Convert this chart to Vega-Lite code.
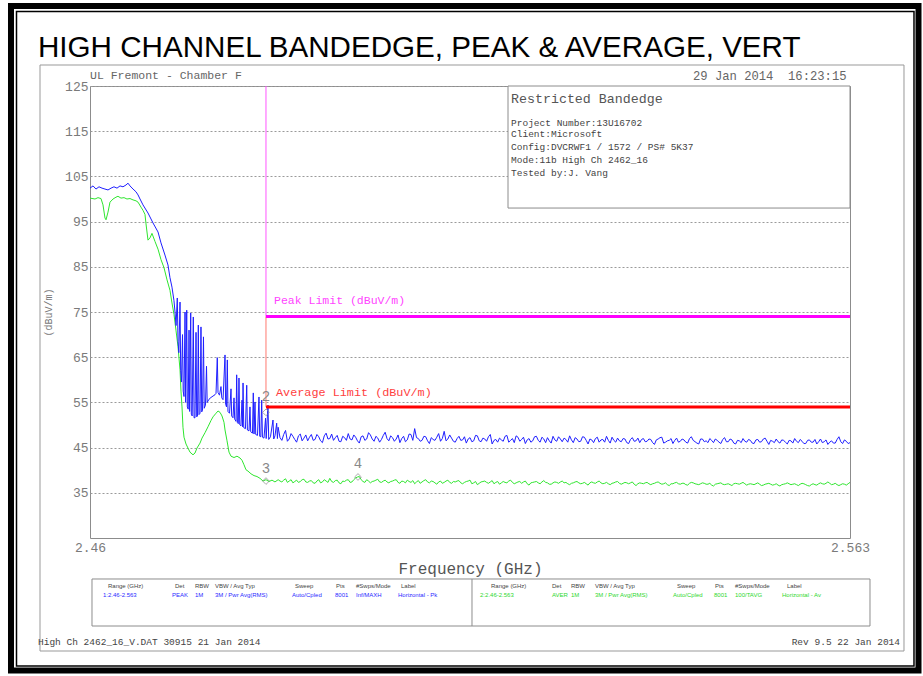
{
"$schema": "https://vega.github.io/schema/vega-lite/v6.json",
"width": 760, "height": 452,
"autosize": "none",
"padding": {"left": 90, "top": 86, "right": 73, "bottom": 138},
"background": "white",
"config": {"view": {"stroke": "#8c8c8c", "strokeWidth": 1}},
"datasets": {
"peak": [
{"f":2.46,"v":102.4},{"f":2.46041,"v":102.9},{"f":2.46081,"v":102.2},{"f":2.46122,"v":102.7},{"f":2.46163,"v":102.4},{"f":2.46203,"v":102.2},{"f":2.46244,"v":102.0},{"f":2.46285,"v":102.4},{"f":2.46325,"v":102.7},{"f":2.46366,"v":102.4},{"f":2.46407,"v":102.9},{"f":2.46447,"v":102.7},{"f":2.46488,"v":103.1},{"f":2.46515,"v":103.5},{"f":2.46542,"v":102.9},{"f":2.46583,"v":102.2},{"f":2.46623,"v":101.6},{"f":2.46651,"v":100.9},{"f":2.46678,"v":100.0},{"f":2.46718,"v":98.7},{"f":2.46786,"v":96.9},{"f":2.46854,"v":94.7},{"f":2.46922,"v":92.7},{"f":2.46962,"v":90.3},{"f":2.47016,"v":87.6},{"f":2.47057,"v":85.4},{"f":2.47084,"v":82.6},{"f":2.47111,"v":80.5},
{"f":2.47138,"v":77.5},{"f":2.47152,"v":75.0},{"f":2.47166,"v":72.0},{"f":2.47183,"v":78.1},{"f":2.47193,"v":68.5},{"f":2.47204,"v":66.0},{"f":2.4722,"v":77.2},{"f":2.47229,"v":62.0},{"f":2.4724,"v":59.5},{"f":2.47254,"v":70.0},{"f":2.47263,"v":57.5},{"f":2.47274,"v":56.3},{"f":2.47288,"v":75.0},{"f":2.47296,"v":55.0},{"f":2.47311,"v":75.4},{"f":2.47319,"v":54.0},{"f":2.47331,"v":53.5},{"f":2.47342,"v":71.0},{"f":2.4735,"v":53.0},{"f":2.47365,"v":74.8},{"f":2.47373,"v":52.4},{"f":2.47385,"v":52.0},{"f":2.474,"v":73.9},{"f":2.4741,"v":51.6},{"f":2.47423,"v":51.6},{"f":2.47437,"v":70.5},{"f":2.47446,"v":51.8},{"f":2.47457,"v":52.0},{"f":2.47468,"v":72.1},{"f":2.47477,"v":52.3},{"f":2.47491,"v":52.6},{"f":2.47504,"v":71.7},{"f":2.47514,"v":52.9},{"f":2.47525,"v":53.3},{"f":2.47538,"v":69.5},{"f":2.47548,"v":53.7},{"f":2.47565,"v":54.4},{"f":2.47579,"v":63.0},{"f":2.47588,"v":55.0},{"f":2.47613,"v":55.7},{"f":2.4764,"v":56.1},{"f":2.47667,"v":56.4},{"f":2.47694,"v":56.7},{"f":2.47708,"v":57.0},{"f":2.47725,"v":64.9},{"f":2.47735,"v":57.2},{"f":2.47755,"v":56.6},{"f":2.47775,"v":58.5},{"f":2.47786,"v":56.0},{"f":2.47803,"v":55.6},{"f":2.4783,"v":65.5},{"f":2.47838,"v":54.6},{"f":2.4785,"v":54.0},{"f":2.47861,"v":64.4},{"f":2.4787,"v":53.0},{"f":2.47891,"v":52.6},{"f":2.47911,"v":58.0},{"f":2.4792,"v":52.0},{"f":2.47938,"v":51.6},{"f":2.47952,"v":56.0},{"f":2.47961,"v":51.3},{"f":2.47979,"v":50.8},{"f":2.47988,"v":61.1},{"f":2.47998,"v":50.5},{"f":2.4801,"v":50.3},{"f":2.48019,"v":60.4},{"f":2.48029,"v":50.1},{"f":2.48046,"v":49.8},{"f":2.4806,"v":55.5},{"f":2.48068,"v":49.6},{"f":2.48074,"v":59.3},{"f":2.48084,"v":49.4},{"f":2.48107,"v":49.2},{"f":2.48124,"v":58.8},{"f":2.48133,"v":48.9},{"f":2.48155,"v":48.7},{"f":2.48168,"v":54.0},{"f":2.48178,"v":48.5},{"f":2.48202,"v":48.2},{"f":2.48213,"v":57.1},{"f":2.48223,"v":48.0},{"f":2.48236,"v":55.1},{"f":2.48246,"v":47.9},{"f":2.4827,"v":47.7},{"f":2.4829,"v":56.2},{"f":2.483,"v":47.5},{"f":2.48315,"v":47.4},{"f":2.48327,"v":55.5},{"f":2.48337,"v":47.3},{"f":2.48358,"v":47.1},{"f":2.48379,"v":51.5},{"f":2.48388,"v":47.0},{"f":2.48412,"v":54.4},{"f":2.48422,"v":46.8},{"f":2.48446,"v":47.4},{"f":2.4848,"v":51.1},{"f":2.4849,"v":46.9},{"f":2.48507,"v":47.6},{"f":2.4853,"v":50.4},{"f":2.4854,"v":47.0},
{"f":2.4855,"v":49.5},{"f":2.486,"v":46.6},{"f":2.4865,"v":48.8},{"f":2.487,"v":46.9},{"f":2.4875,"v":47.5},{"f":2.488,"v":46.2},{"f":2.4885,"v":48.0},{"f":2.489,"v":47.1},{"f":2.4895,"v":46.5},{"f":2.49,"v":47.9},
{"f":2.4905,"v":46.8},{"f":2.491,"v":47.4},{"f":2.4915,"v":46.1},{"f":2.492,"v":48.2},{"f":2.4925,"v":47.0},{"f":2.493,"v":46.6},{"f":2.4935,"v":47.7},{"f":2.494,"v":46.3},{"f":2.4945,"v":47.2},{"f":2.495,"v":48.1},
{"f":2.4955,"v":46.7},{"f":2.496,"v":47.3},{"f":2.4965,"v":46.0},{"f":2.497,"v":47.6},{"f":2.4975,"v":46.9},{"f":2.498,"v":47.8},{"f":2.4985,"v":46.4},{"f":2.499,"v":47.1},{"f":2.4995,"v":46.8},{"f":2.5,"v":48.4},
{"f":2.5005,"v":46.5},{"f":2.501,"v":47.2},{"f":2.5015,"v":46.9},{"f":2.502,"v":46.1},{"f":2.5025,"v":47.5},{"f":2.503,"v":46.7},{"f":2.5035,"v":47.9},{"f":2.504,"v":49.2},{"f":2.5045,"v":47.0},{"f":2.505,"v":46.6},
{"f":2.5055,"v":47.4},{"f":2.506,"v":45.9},{"f":2.5065,"v":46.8},{"f":2.507,"v":47.3},{"f":2.5075,"v":46.4},{"f":2.508,"v":48.6},{"f":2.5085,"v":46.9},{"f":2.509,"v":47.1},{"f":2.5095,"v":46.2},{"f":2.51,"v":47.5},
{"f":2.5105,"v":46.7},{"f":2.511,"v":46.0},{"f":2.5115,"v":47.2},{"f":2.512,"v":46.5},{"f":2.5125,"v":47.6},{"f":2.513,"v":46.3},{"f":2.5135,"v":46.9},{"f":2.514,"v":47.4},{"f":2.5145,"v":45.8},{"f":2.515,"v":46.8},
{"f":2.5155,"v":47.1},{"f":2.516,"v":46.4},{"f":2.5165,"v":47.7},{"f":2.517,"v":46.6},{"f":2.5175,"v":46.1},{"f":2.518,"v":47.3},{"f":2.5185,"v":46.8},{"f":2.519,"v":45.9},{"f":2.5195,"v":47.0},{"f":2.52,"v":46.5},
{"f":2.5205,"v":47.5},{"f":2.521,"v":46.2},{"f":2.5215,"v":46.9},{"f":2.522,"v":47.2},{"f":2.5225,"v":46.0},{"f":2.523,"v":46.7},{"f":2.5235,"v":47.4},{"f":2.524,"v":46.3},{"f":2.5245,"v":46.8},{"f":2.525,"v":47.6},
{"f":2.5255,"v":46.1},{"f":2.526,"v":46.9},{"f":2.5265,"v":46.4},{"f":2.527,"v":47.3},{"f":2.5275,"v":45.8},{"f":2.528,"v":46.7},{"f":2.5285,"v":47.0},{"f":2.529,"v":46.2},{"f":2.5295,"v":46.8},{"f":2.53,"v":47.5},
{"f":2.5305,"v":46.0},{"f":2.531,"v":46.6},{"f":2.5315,"v":47.1},{"f":2.532,"v":46.3},{"f":2.5325,"v":46.9},{"f":2.533,"v":45.9},{"f":2.5335,"v":47.2},{"f":2.534,"v":46.5},{"f":2.5345,"v":46.1},{"f":2.535,"v":47.0},
{"f":2.5355,"v":46.4},{"f":2.536,"v":46.8},{"f":2.5365,"v":45.7},{"f":2.537,"v":46.9},{"f":2.5375,"v":47.3},{"f":2.538,"v":46.2},{"f":2.5385,"v":46.6},{"f":2.539,"v":45.9},{"f":2.5395,"v":47.1},{"f":2.54,"v":46.4},
{"f":2.5405,"v":46.7},{"f":2.541,"v":46.0},{"f":2.5415,"v":47.4},{"f":2.542,"v":46.3},{"f":2.5425,"v":45.8},{"f":2.543,"v":46.9},{"f":2.5435,"v":46.5},{"f":2.544,"v":47.0},{"f":2.5445,"v":46.1},{"f":2.545,"v":46.6},
{"f":2.5455,"v":45.9},{"f":2.546,"v":47.2},{"f":2.5465,"v":46.3},{"f":2.547,"v":46.7},{"f":2.5475,"v":45.8},{"f":2.548,"v":46.5},{"f":2.5485,"v":47.0},{"f":2.549,"v":46.2},{"f":2.5495,"v":46.6},{"f":2.55,"v":45.9},
{"f":2.5505,"v":46.8},{"f":2.551,"v":46.3},{"f":2.5515,"v":47.1},{"f":2.552,"v":45.7},{"f":2.5525,"v":46.4},{"f":2.553,"v":46.9},{"f":2.5535,"v":46.0},{"f":2.554,"v":46.6},{"f":2.5545,"v":45.8},{"f":2.555,"v":46.5},
{"f":2.5555,"v":47.0},{"f":2.556,"v":46.1},{"f":2.5565,"v":46.4},{"f":2.557,"v":45.9},{"f":2.5575,"v":46.7},{"f":2.558,"v":46.2},{"f":2.5585,"v":45.8},{"f":2.559,"v":46.9},{"f":2.5595,"v":46.3},{"f":2.56,"v":45.7},
{"f":2.5605,"v":46.5},{"f":2.561,"v":46.0},{"f":2.5615,"v":47.4},{"f":2.562,"v":45.9},{"f":2.5625,"v":46.4},{"f":2.563,"v":46.1},
{"f":2.48575,"v":47.2},{"f":2.48625,"v":47.9},{"f":2.48675,"v":46.4},{"f":2.48725,"v":48.1},{"f":2.48775,"v":46.8},{"f":2.48825,"v":47.6},{"f":2.48875,"v":46.5},{"f":2.48925,"v":47.8},{"f":2.48975,"v":47.3},{"f":2.49025,"v":46.6},
{"f":2.49075,"v":47.9},{"f":2.49125,"v":46.5},{"f":2.49175,"v":47.6},{"f":2.49225,"v":46.9},{"f":2.49275,"v":48.0},{"f":2.49325,"v":47.2},{"f":2.49375,"v":46.4},{"f":2.49425,"v":47.5},{"f":2.49475,"v":46.6},{"f":2.49525,"v":46.9},
{"f":2.49575,"v":47.8},{"f":2.49625,"v":46.5},{"f":2.49675,"v":47.4},{"f":2.49725,"v":46.6},{"f":2.49775,"v":48.3},{"f":2.49825,"v":46.9},{"f":2.49875,"v":47.5},{"f":2.49925,"v":46.2},{"f":2.49975,"v":47.7},{"f":2.50025,"v":47.0},
{"f":2.50075,"v":47.6},{"f":2.50125,"v":46.4},{"f":2.50175,"v":47.8},{"f":2.50225,"v":47.0},{"f":2.50275,"v":46.3},{"f":2.50325,"v":48.0},{"f":2.50375,"v":46.6},{"f":2.50425,"v":47.2},{"f":2.50475,"v":46.4},{"f":2.50525,"v":47.5},
{"f":2.50575,"v":46.5},{"f":2.50625,"v":47.2},{"f":2.50675,"v":46.6},{"f":2.50725,"v":48.1},{"f":2.50775,"v":47.0},{"f":2.50825,"v":46.5},{"f":2.50875,"v":47.8},{"f":2.50925,"v":46.4},{"f":2.50975,"v":47.0},{"f":2.51025,"v":46.6},
{"f":2.51075,"v":47.4},{"f":2.51125,"v":46.9},{"f":2.51175,"v":46.3},{"f":2.51225,"v":47.7},{"f":2.51275,"v":46.5},{"f":2.51325,"v":47.1},{"f":2.51375,"v":46.4},{"f":2.51425,"v":47.9},{"f":2.51475,"v":46.6},{"f":2.51525,"v":46.2},
{"f":2.51575,"v":46.7},{"f":2.51625,"v":47.5},{"f":2.51675,"v":46.2},{"f":2.51725,"v":47.0},{"f":2.51775,"v":47.6},{"f":2.51825,"v":46.4},{"f":2.51875,"v":47.3},{"f":2.51925,"v":46.7},{"f":2.51975,"v":46.2},{"f":2.52025,"v":47.4},
{"f":2.52075,"v":46.6},{"f":2.52125,"v":47.3},{"f":2.52175,"v":46.1},{"f":2.52225,"v":46.5},{"f":2.52275,"v":47.5},{"f":2.52325,"v":46.4},{"f":2.52375,"v":46.9},{"f":2.52425,"v":47.1},{"f":2.52475,"v":46.2},{"f":2.52525,"v":46.7},
{"f":2.52575,"v":47.2},{"f":2.52625,"v":46.3},{"f":2.52675,"v":47.4},{"f":2.52725,"v":46.6},{"f":2.52775,"v":46.9},{"f":2.52825,"v":46.1},{"f":2.52875,"v":47.3},{"f":2.52925,"v":46.7},{"f":2.52975,"v":46.2},{"f":2.53025,"v":46.6},
{"f":2.53075,"v":47.3},{"f":2.53125,"v":46.2},{"f":2.53175,"v":46.5},{"f":2.53225,"v":47.0},{"f":2.53275,"v":46.1},{"f":2.53325,"v":46.8},{"f":2.53375,"v":46.4},{"f":2.53425,"v":47.1},{"f":2.53475,"v":46.8},{"f":2.53525,"v":46.3},
{"f":2.53575,"v":46.9},{"f":2.53625,"v":46.1},{"f":2.53675,"v":46.7},{"f":2.53725,"v":47.2},{"f":2.53775,"v":46.0},{"f":2.53825,"v":46.5},{"f":2.53875,"v":47.0},{"f":2.53925,"v":46.6},{"f":2.53975,"v":46.2},{"f":2.54025,"v":46.9},
{"f":2.54075,"v":46.2},{"f":2.54125,"v":47.0},{"f":2.54175,"v":46.6},{"f":2.54225,"v":46.0},{"f":2.54275,"v":46.9},{"f":2.54325,"v":46.3},{"f":2.54375,"v":46.1},{"f":2.54425,"v":46.6},{"f":2.54475,"v":46.9},{"f":2.54525,"v":46.2},
{"f":2.54575,"v":46.8},{"f":2.54625,"v":46.3},{"f":2.54675,"v":46.9},{"f":2.54725,"v":46.0},{"f":2.54775,"v":46.6},{"f":2.54825,"v":46.1},{"f":2.54875,"v":46.4},{"f":2.54925,"v":46.8},{"f":2.54975,"v":46.0},{"f":2.55025,"v":46.7},
{"f":2.55075,"v":46.2},{"f":2.55125,"v":46.9},{"f":2.55175,"v":46.4},{"f":2.55225,"v":46.6},{"f":2.55275,"v":46.1},{"f":2.55325,"v":46.3},{"f":2.55375,"v":46.7},{"f":2.55425,"v":46.2},{"f":2.55475,"v":46.6},{"f":2.55525,"v":46.0},
{"f":2.55575,"v":46.4},{"f":2.55625,"v":46.8},{"f":2.55675,"v":45.9},{"f":2.55725,"v":46.6},{"f":2.55775,"v":46.2},{"f":2.55825,"v":46.8},{"f":2.55875,"v":46.3},{"f":2.55925,"v":46.1},{"f":2.55975,"v":46.7},{"f":2.56025,"v":46.2},
{"f":2.56075,"v":46.0},{"f":2.56125,"v":46.8},{"f":2.56175,"v":46.3},{"f":2.56225,"v":46.7},{"f":2.56275,"v":45.9}
],
"avg": [
{"f":2.46,"v":100.2},{"f":2.46068,"v":100.0},{"f":2.46108,"v":100.3},{"f":2.46149,"v":100.1},{"f":2.46176,"v":98.7},{"f":2.46203,"v":95.8},{"f":2.46217,"v":95.4},{"f":2.46244,"v":97.1},{"f":2.46271,"v":99.3},{"f":2.46312,"v":100.0},{"f":2.46352,"v":100.4},{"f":2.46379,"v":100.6},{"f":2.4642,"v":100.2},{"f":2.46461,"v":100.3},{"f":2.46501,"v":100.0},{"f":2.46542,"v":100.1},{"f":2.46583,"v":99.8},{"f":2.46623,"v":99.6},{"f":2.46651,"v":99.3},{"f":2.46691,"v":98.2},{"f":2.46718,"v":97.5},{"f":2.46745,"v":96.6},{"f":2.46759,"v":94.5},{"f":2.46786,"v":90.9},{"f":2.46813,"v":91.4},{"f":2.4684,"v":92.4},{"f":2.46881,"v":90.6},{"f":2.46922,"v":88.9},{"f":2.46962,"v":86.6},{"f":2.47003,"v":84.8},{"f":2.47044,"v":82.1},{"f":2.47084,"v":79.8},{"f":2.47111,"v":77.0},{"f":2.47138,"v":74.5},{"f":2.47165,"v":71.0},{"f":2.47193,"v":67.3},{"f":2.4722,"v":62.2},{"f":2.47233,"v":57.5},{"f":2.47247,"v":54.0},{"f":2.4726,"v":49.5},{"f":2.47274,"v":47.3},{"f":2.47301,"v":45.8},{"f":2.47328,"v":44.9},{"f":2.47355,"v":44.0},{"f":2.47396,"v":43.4},{"f":2.47423,"v":43.8},{"f":2.4745,"v":44.9},{"f":2.47491,"v":46.0},{"f":2.47518,"v":47.1},{"f":2.47559,"v":48.3},{"f":2.47599,"v":49.6},{"f":2.4764,"v":51.0},{"f":2.47667,"v":51.8},{"f":2.47708,"v":52.6},{"f":2.47735,"v":53.1},{"f":2.47762,"v":52.8},{"f":2.47789,"v":52.0},{"f":2.47816,"v":50.6},{"f":2.4783,"v":48.9},{"f":2.47857,"v":46.5},{"f":2.47884,"v":44.0},{"f":2.47911,"v":43.1},{"f":2.47952,"v":42.8},{"f":2.47992,"v":43.1},{"f":2.48033,"v":42.7},{"f":2.4806,"v":42.2},{"f":2.48087,"v":41.2},{"f":2.48114,"v":40.1},{"f":2.48141,"v":39.8},{"f":2.48182,"v":39.2},{"f":2.48223,"v":38.8},{"f":2.48263,"v":38.6},{"f":2.48304,"v":38.2},{"f":2.48345,"v":37.6},{"f":2.48385,"v":37.9},{"f":2.48426,"v":37.5},{"f":2.48467,"v":37.8},{"f":2.48507,"v":37.4},
{"f":2.4855,"v":37.9},{"f":2.486,"v":37.4},{"f":2.4865,"v":38.1},{"f":2.487,"v":37.6},{"f":2.4875,"v":37.2},{"f":2.488,"v":37.8},{"f":2.4885,"v":37.5},{"f":2.489,"v":38.0},{"f":2.4895,"v":37.3},{"f":2.49,"v":37.7},
{"f":2.4905,"v":37.1},{"f":2.491,"v":37.9},{"f":2.4915,"v":37.4},{"f":2.492,"v":37.6},{"f":2.4925,"v":38.2},{"f":2.493,"v":37.3},{"f":2.4935,"v":37.8},{"f":2.494,"v":37.0},{"f":2.4945,"v":37.5},{"f":2.495,"v":37.9},
{"f":2.4955,"v":37.4},{"f":2.496,"v":38.3},{"f":2.4965,"v":38.6},{"f":2.497,"v":37.5},{"f":2.4975,"v":37.9},{"f":2.498,"v":37.2},{"f":2.4985,"v":37.6},{"f":2.499,"v":38.0},{"f":2.4995,"v":37.3},{"f":2.5,"v":37.8},
{"f":2.5005,"v":37.2},{"f":2.501,"v":37.6},{"f":2.5015,"v":37.9},{"f":2.502,"v":37.1},{"f":2.5025,"v":37.5},{"f":2.503,"v":37.8},{"f":2.5035,"v":37.3},{"f":2.504,"v":37.0},{"f":2.5045,"v":37.7},{"f":2.505,"v":37.4},
{"f":2.5055,"v":37.9},{"f":2.506,"v":37.2},{"f":2.5065,"v":37.5},{"f":2.507,"v":36.9},{"f":2.5075,"v":37.6},{"f":2.508,"v":37.3},{"f":2.5085,"v":37.8},{"f":2.509,"v":37.1},{"f":2.5095,"v":37.4},{"f":2.51,"v":37.7},
{"f":2.5105,"v":37.0},{"f":2.511,"v":37.5},{"f":2.5115,"v":37.8},{"f":2.512,"v":37.2},{"f":2.5125,"v":36.8},{"f":2.513,"v":37.4},{"f":2.5135,"v":37.6},{"f":2.514,"v":37.1},{"f":2.5145,"v":37.7},{"f":2.515,"v":37.3},
{"f":2.5155,"v":36.9},{"f":2.516,"v":37.5},{"f":2.5165,"v":37.2},{"f":2.517,"v":37.8},{"f":2.5175,"v":37.0},{"f":2.518,"v":37.4},{"f":2.5185,"v":37.1},{"f":2.519,"v":37.6},{"f":2.5195,"v":36.7},{"f":2.52,"v":37.3},
{"f":2.5205,"v":37.5},{"f":2.521,"v":37.0},{"f":2.5215,"v":37.7},{"f":2.522,"v":37.2},{"f":2.5225,"v":36.9},{"f":2.523,"v":37.4},{"f":2.5235,"v":37.1},{"f":2.524,"v":37.6},{"f":2.5245,"v":37.3},{"f":2.525,"v":36.8},
{"f":2.5255,"v":37.2},{"f":2.526,"v":37.5},{"f":2.5265,"v":37.0},{"f":2.527,"v":37.3},{"f":2.5275,"v":36.7},{"f":2.528,"v":37.4},{"f":2.5285,"v":37.1},{"f":2.529,"v":37.6},{"f":2.5295,"v":37.0},{"f":2.53,"v":37.3},
{"f":2.5305,"v":36.8},{"f":2.531,"v":37.2},{"f":2.5315,"v":37.5},{"f":2.532,"v":36.9},{"f":2.5325,"v":37.3},{"f":2.533,"v":37.0},{"f":2.5335,"v":37.4},{"f":2.534,"v":36.6},{"f":2.5345,"v":37.2},{"f":2.535,"v":37.0},
{"f":2.5355,"v":37.3},{"f":2.536,"v":36.8},{"f":2.5365,"v":37.1},{"f":2.537,"v":37.4},{"f":2.5375,"v":36.9},{"f":2.538,"v":37.2},{"f":2.5385,"v":36.6},{"f":2.539,"v":37.0},{"f":2.5395,"v":37.3},{"f":2.54,"v":36.9},
{"f":2.5405,"v":37.1},{"f":2.541,"v":36.7},{"f":2.5415,"v":37.3},{"f":2.542,"v":37.0},{"f":2.5425,"v":36.8},{"f":2.543,"v":37.2},{"f":2.5435,"v":36.9},{"f":2.544,"v":37.1},{"f":2.5445,"v":36.5},{"f":2.545,"v":37.0},
{"f":2.5455,"v":37.2},{"f":2.546,"v":36.8},{"f":2.5465,"v":37.0},{"f":2.547,"v":36.6},{"f":2.5475,"v":37.1},{"f":2.548,"v":36.9},{"f":2.5485,"v":37.3},{"f":2.549,"v":36.7},{"f":2.5495,"v":37.0},{"f":2.55,"v":36.8},
{"f":2.5505,"v":37.2},{"f":2.551,"v":36.6},{"f":2.5515,"v":36.9},{"f":2.552,"v":37.1},{"f":2.5525,"v":36.7},{"f":2.553,"v":37.0},{"f":2.5535,"v":36.5},{"f":2.554,"v":36.9},{"f":2.5545,"v":37.2},{"f":2.555,"v":36.8},
{"f":2.5555,"v":37.0},{"f":2.556,"v":36.6},{"f":2.5565,"v":37.1},{"f":2.557,"v":36.8},{"f":2.5575,"v":36.5},{"f":2.558,"v":37.0},{"f":2.5585,"v":36.7},{"f":2.559,"v":37.2},{"f":2.5595,"v":36.9},{"f":2.56,"v":37.4},
{"f":2.5605,"v":36.8},{"f":2.561,"v":37.1},{"f":2.5615,"v":36.6},{"f":2.562,"v":37.0},{"f":2.5625,"v":36.7},{"f":2.563,"v":37.3},
{"f":2.48575,"v":37.6},{"f":2.48625,"v":37.8},{"f":2.48675,"v":37.3},{"f":2.48725,"v":37.9},{"f":2.48775,"v":37.5},{"f":2.48825,"v":37.3},{"f":2.48875,"v":37.9},{"f":2.48925,"v":37.4},{"f":2.48975,"v":37.6},{"f":2.49025,"v":37.2},
{"f":2.49075,"v":37.6},{"f":2.49125,"v":37.2},{"f":2.49175,"v":37.9},{"f":2.49225,"v":37.3},{"f":2.49275,"v":37.5},{"f":2.49325,"v":37.7},{"f":2.49375,"v":37.2},{"f":2.49425,"v":37.6},{"f":2.49475,"v":37.8},{"f":2.49525,"v":37.3},
{"f":2.49575,"v":37.9},{"f":2.49625,"v":38.5},{"f":2.49675,"v":37.9},{"f":2.49725,"v":37.3},{"f":2.49775,"v":37.6},{"f":2.49825,"v":37.5},{"f":2.49875,"v":37.8},{"f":2.49925,"v":37.4},{"f":2.49975,"v":37.6},{"f":2.50025,"v":37.4},
{"f":2.50075,"v":37.5},{"f":2.50125,"v":37.8},{"f":2.50175,"v":37.3},{"f":2.50225,"v":37.6},{"f":2.50275,"v":37.2},{"f":2.50325,"v":37.5},{"f":2.50375,"v":37.7},{"f":2.50425,"v":37.4},{"f":2.50475,"v":37.1},{"f":2.50525,"v":37.7},
{"f":2.50575,"v":37.4},{"f":2.50625,"v":37.6},{"f":2.50675,"v":37.2},{"f":2.50725,"v":37.4},{"f":2.50775,"v":37.1},{"f":2.50825,"v":37.6},{"f":2.50875,"v":37.3},{"f":2.50925,"v":37.5},{"f":2.50975,"v":37.6},{"f":2.51025,"v":37.2},
{"f":2.51075,"v":37.3},{"f":2.51125,"v":37.6},{"f":2.51175,"v":37.0},{"f":2.51225,"v":37.5},{"f":2.51275,"v":37.1},{"f":2.51325,"v":37.5},{"f":2.51375,"v":37.3},{"f":2.51425,"v":37.4},{"f":2.51475,"v":37.0},{"f":2.51525,"v":37.5},
{"f":2.51575,"v":37.2},{"f":2.51625,"v":37.3},{"f":2.51675,"v":37.6},{"f":2.51725,"v":37.3},{"f":2.51775,"v":37.2},{"f":2.51825,"v":37.5},{"f":2.51875,"v":37.4},{"f":2.51925,"v":37.0},{"f":2.51975,"v":37.2},{"f":2.52025,"v":37.4},
{"f":2.52075,"v":37.2},{"f":2.52125,"v":37.4},{"f":2.52175,"v":37.3},{"f":2.52225,"v":36.9},{"f":2.52275,"v":37.2},{"f":2.52325,"v":37.3},{"f":2.52375,"v":37.4},{"f":2.52425,"v":37.2},{"f":2.52475,"v":37.0},{"f":2.52525,"v":37.1},
{"f":2.52575,"v":37.4},{"f":2.52625,"v":37.2},{"f":2.52675,"v":37.1},{"f":2.52725,"v":37.0},{"f":2.52775,"v":37.2},{"f":2.52825,"v":37.2},{"f":2.52875,"v":37.4},{"f":2.52925,"v":37.2},{"f":2.52975,"v":37.1},{"f":2.53025,"v":37.0},
{"f":2.53075,"v":37.1},{"f":2.53125,"v":37.4},{"f":2.53175,"v":37.1},{"f":2.53225,"v":37.1},{"f":2.53275,"v":37.2},{"f":2.53325,"v":37.2},{"f":2.53375,"v":36.9},{"f":2.53425,"v":37.0},{"f":2.53475,"v":37.1},{"f":2.53525,"v":37.2},
{"f":2.53575,"v":37.0},{"f":2.53625,"v":37.0},{"f":2.53675,"v":37.3},{"f":2.53725,"v":37.1},{"f":2.53775,"v":37.0},{"f":2.53825,"v":36.8},{"f":2.53875,"v":37.0},{"f":2.53925,"v":37.2},{"f":2.53975,"v":37.0},{"f":2.54025,"v":37.1},
{"f":2.54075,"v":36.8},{"f":2.54125,"v":37.1},{"f":2.54175,"v":37.2},{"f":2.54225,"v":36.9},{"f":2.54275,"v":37.0},{"f":2.54325,"v":37.1},{"f":2.54375,"v":36.9},{"f":2.54425,"v":36.7},{"f":2.54475,"v":36.9},{"f":2.54525,"v":37.1},
{"f":2.54575,"v":36.9},{"f":2.54625,"v":36.9},{"f":2.54675,"v":36.8},{"f":2.54725,"v":37.0},{"f":2.54775,"v":37.0},{"f":2.54825,"v":37.1},{"f":2.54875,"v":37.0},{"f":2.54925,"v":36.9},{"f":2.54975,"v":36.9},{"f":2.55025,"v":37.0},
{"f":2.55075,"v":36.9},{"f":2.55125,"v":36.7},{"f":2.55175,"v":37.0},{"f":2.55225,"v":36.9},{"f":2.55275,"v":36.8},{"f":2.55325,"v":36.7},{"f":2.55375,"v":36.8},{"f":2.55425,"v":37.0},{"f":2.55475,"v":37.0},{"f":2.55525,"v":36.9},
{"f":2.55575,"v":36.8},{"f":2.55625,"v":36.9},{"f":2.55675,"v":37.0},{"f":2.55725,"v":36.6},{"f":2.55775,"v":36.8},{"f":2.55825,"v":36.8},{"f":2.55875,"v":37.0},{"f":2.55925,"v":37.0},{"f":2.55975,"v":37.1},{"f":2.56025,"v":37.1},
{"f":2.56075,"v":36.9},{"f":2.56125,"v":36.8},{"f":2.56175,"v":36.8},{"f":2.56225,"v":36.9},{"f":2.56275,"v":37.0}
]
},
"encoding": {
"x": {"field": "f", "type": "quantitative",
 "scale": {"domain": [2.46, 2.563], "nice": false, "zero": false},
 "axis": {"values": [2.46, 2.563], "format": ".3~f", "title": "Frequency (GHz)", "grid": false, "ticks": false, "domain": false, "labelFlush": false, "labelFont": "Liberation Mono", "labelFontSize": 13, "labelColor": "#7a7a7a", "labelPadding": 3, "titleFont": "Liberation Mono", "titleFontSize": 16, "titleFontWeight": "normal", "titleColor": "#555555", "titlePadding": 6}},
"y": {"field": "v", "type": "quantitative",
 "scale": {"domain": [25, 125], "nice": false, "zero": false},
 "axis": {"values": [35, 45, 55, 65, 75, 85, 95, 105, 115, 125], "title": "(dBuV/m)", "grid": true, "gridDash": [2, 2], "gridColor": "#9a9a9a", "ticks": false, "domain": false, "labelFont": "Liberation Mono", "labelFontSize": 13, "labelColor": "#7a7a7a", "labelPadding": 2, "titleFont": "Liberation Mono", "titleFontSize": 10, "titleFontWeight": "normal", "titleColor": "#777777", "titlePadding": 11}}
},
"layer": [
{"data": {"values": [{"f": 2.449293, "f2": 2.572283, "v": 142.699, "v2": -4.314}]},
 "mark": {"type": "rect", "filled": false, "stroke": "#000000", "strokeWidth": 6},
 "encoding": {"x2": {"field": "f2"}, "y2": {"field": "v2"}}},
{"data": {"values": [{"f": 2.450039, "f2": 2.571673, "v": 141.482, "v2": -3.319}]},
 "mark": {"type": "rect", "filled": false, "stroke": "#000000", "strokeWidth": 1.5},
 "encoding": {"x2": {"field": "f2"}, "y2": {"field": "v2"}}},
{"data": {"values": [{"f": 2.453224, "f2": 2.570318, "v": 129.646, "v2": 0.0}]},
 "mark": {"type": "rect", "filled": false, "stroke": "#999999", "strokeWidth": 1},
 "encoding": {"x2": {"field": "f2"}, "y2": {"field": "v2"}}},
{"data": {"values": [{"f": 2.452953, "v": 131.42, "t": "HIGH CHANNEL BANDEDGE, PEAK & AVERAGE, VERT"}]},
 "mark": {"type": "text", "font": "Liberation Sans", "fontSize": 29.6, "align": "left", "baseline": "alphabetic", "color": "#000000"},
 "encoding": {"text": {"field": "t"}}},
{"data": {"values": [{"f": 2.46, "v": 127.2, "t": "UL Fremont - Chamber F"}]},
 "mark": {"type": "text", "font": "Liberation Mono", "fontSize": 11.5, "align": "left", "baseline": "middle", "color": "#666666"},
 "encoding": {"text": {"field": "t"}}},
{"data": {"values": [{"f": 2.54172, "v": 127.2, "t": "29 Jan 2014"}, {"f": 2.5546, "v": 127.2, "t": "16:23:15"}]},
 "mark": {"type": "text", "font": "Liberation Mono", "fontSize": 12.2, "align": "left", "baseline": "middle", "color": "#666666"},
 "encoding": {"text": {"field": "t"}}},
{"data": {"values": [{"f": 2.51665, "f2": 2.563, "v": 125, "v2": 98.0}]},
 "mark": {"type": "rect", "fill": "#ffffff", "stroke": "#8c8c8c", "strokeWidth": 1},
 "encoding": {"x2": {"field": "f2"}, "y2": {"field": "v2"}}},
{"data": {"values": [{"f": 2.51706, "v": 122.12, "t": "Restricted Bandedge"}]},
 "mark": {"type": "text", "font": "Liberation Mono", "fontSize": 13.3, "align": "left", "baseline": "middle", "color": "#555555"},
 "encoding": {"text": {"field": "t"}}},
{"data": {"values": [
 {"f": 2.51706, "v": 116.81, "t": "Project Number:13U16702"},
 {"f": 2.51706, "v": 114.38, "t": "Client:Microsoft"},
 {"f": 2.51706, "v": 111.5, "t": "Config:DVCRWF1 / 1572 / PS# 5K37"},
 {"f": 2.51706, "v": 108.63, "t": "Mode:11b High Ch 2462_16"},
 {"f": 2.51706, "v": 105.75, "t": "Tested by:J. Vang"}]},
 "mark": {"type": "text", "font": "Liberation Mono", "fontSize": 9.5, "align": "left", "baseline": "middle", "color": "#444444"},
 "encoding": {"text": {"field": "t"}}},
{"data": {"name": "avg"},
 "mark": {"type": "line", "color": "#2ee62e", "strokeWidth": 1}},
{"data": {"name": "peak"},
 "mark": {"type": "line", "color": "#1f1fff", "strokeWidth": 1}},
{"data": {"values": [{"f": 2.48385, "v": 125, "v2": 74}]},
 "mark": {"type": "rule", "color": "#ff55ff", "strokeWidth": 1},
 "encoding": {"y2": {"field": "v2"}}},
{"data": {"values": [{"f": 2.48385, "v": 74, "v2": 54}]},
 "mark": {"type": "rule", "color": "#ff7a70", "strokeWidth": 1},
 "encoding": {"y2": {"field": "v2"}}},
{"data": {"values": [{"f": 2.48385, "f2": 2.563, "v": 74}]},
 "mark": {"type": "rule", "color": "#ff00ff", "strokeWidth": 3},
 "encoding": {"x2": {"field": "f2"}}},
{"data": {"values": [{"f": 2.48385, "f2": 2.563, "v": 54}]},
 "mark": {"type": "rule", "color": "#ff0000", "strokeWidth": 3},
 "encoding": {"x2": {"field": "f2"}}},
{"data": {"values": [{"f": 2.48494, "v": 77.43, "t": "Peak Limit (dBuV/m)"}]},
 "mark": {"type": "text", "font": "Liberation Mono", "fontSize": 11.5, "align": "left", "baseline": "middle", "color": "#ff44ff"},
 "encoding": {"text": {"field": "t"}}},
{"data": {"values": [{"f": 2.48521, "v": 57.3, "t": "Average Limit (dBuV/m)"}]},
 "mark": {"type": "text", "font": "Liberation Mono", "fontSize": 11.8, "align": "left", "baseline": "middle", "color": "#ff4040"},
 "encoding": {"text": {"field": "t"}}},
{"data": {"values": [{"f": 2.48385, "v": 56.1, "t": "2"}, {"f": 2.48385, "v": 40.3, "t": "3"}, {"f": 2.49632, "v": 41.3, "t": "4"}]},
 "mark": {"type": "text", "font": "Liberation Mono", "fontSize": 14, "align": "center", "baseline": "middle", "color": "#888888"},
 "encoding": {"text": {"field": "t"}}},
{"data": {"values": [{"f": 2.48385, "v": 52.8}, {"f": 2.48385, "v": 37.6}, {"f": 2.49632, "v": 38.5}]},
 "mark": {"type": "point", "shape": "diamond", "size": 45, "filled": false, "color": "#888888", "strokeWidth": 1}},
{"data": {"values": [{"f": 2.460271, "f2": 2.56571, "v": 15.93, "v2": 5.53}]},
 "mark": {"type": "rect", "fill": "#ffffff", "stroke": "#8c8c8c", "strokeWidth": 1},
 "encoding": {"x2": {"field": "f2"}, "y2": {"field": "v2"}}},
{"data": {"values": [{"f": 2.511771, "v": 15.93, "v2": 5.53}]},
 "mark": {"type": "rule", "color": "#8c8c8c", "strokeWidth": 1},
 "encoding": {"y2": {"field": "v2"}}},
{"data": {"values": [
 {"f": 2.46244, "v": 14.38, "t": "Range (GHz)"}, {"f": 2.47152, "v": 14.38, "t": "Det"}, {"f": 2.47423, "v": 14.38, "t": "RBW"}, {"f": 2.47694, "v": 14.38, "t": "VBW / Avg Typ"}, {"f": 2.48778, "v": 14.38, "t": "Sweep"}, {"f": 2.49334, "v": 14.38, "t": "Pts"}, {"f": 2.49605, "v": 14.38, "t": "#Swps/Mode"}, {"f": 2.50215, "v": 14.38, "t": "Label"},
 {"f": 2.51435, "v": 14.38, "t": "Range (GHz)"}, {"f": 2.52261, "v": 14.38, "t": "Det"}, {"f": 2.52519, "v": 14.38, "t": "RBW"}, {"f": 2.52844, "v": 14.38, "t": "VBW / Avg Typ"}, {"f": 2.53955, "v": 14.38, "t": "Sweep"}, {"f": 2.5447, "v": 14.38, "t": "Pts"}, {"f": 2.54741, "v": 14.38, "t": "#Swps/Mode"}, {"f": 2.55446, "v": 14.38, "t": "Label"}]},
 "mark": {"type": "text", "font": "Liberation Sans", "fontSize": 6, "align": "left", "baseline": "middle", "color": "#444444"},
 "encoding": {"text": {"field": "t"}}},
{"data": {"values": [
 {"f": 2.46176, "v": 12.39, "t": "1:2.46-2.563"}, {"f": 2.47111, "v": 12.39, "t": "PEAK"}, {"f": 2.47423, "v": 12.39, "t": "1M"}, {"f": 2.47694, "v": 12.39, "t": "3M / Pwr Avg(RMS)"}, {"f": 2.48738, "v": 12.39, "t": "Auto/Cpled"}, {"f": 2.4932, "v": 12.39, "t": "8001"}, {"f": 2.49605, "v": 12.39, "t": "Inf/MAXH"}, {"f": 2.50174, "v": 12.39, "t": "Horizontal - Pk"}]},
 "mark": {"type": "text", "font": "Liberation Sans", "fontSize": 6, "align": "left", "baseline": "middle", "color": "#2a2aff"},
 "encoding": {"text": {"field": "t"}}},
{"data": {"values": [
 {"f": 2.51286, "v": 12.39, "t": "2:2.46-2.563"}, {"f": 2.52261, "v": 12.39, "t": "AVER"}, {"f": 2.52519, "v": 12.39, "t": "1M"}, {"f": 2.52844, "v": 12.39, "t": "3M / Pwr Avg(RMS)"}, {"f": 2.53901, "v": 12.39, "t": "Auto/Cpled"}, {"f": 2.54457, "v": 12.39, "t": "8001"}, {"f": 2.54741, "v": 12.39, "t": "100/TAVG"}, {"f": 2.55378, "v": 12.39, "t": "Horizontal - Av"}]},
 "mark": {"type": "text", "font": "Liberation Sans", "fontSize": 6, "align": "left", "baseline": "middle", "color": "#2ed82e"},
 "encoding": {"text": {"field": "t"}}},
{"data": {"values": [{"f": 2.452953, "v": 1.99, "t": "High Ch 2462_16_V.DAT 30915 21 Jan 2014"}]},
 "mark": {"type": "text", "font": "Liberation Mono", "fontSize": 9.5, "align": "left", "baseline": "middle", "color": "#444444"},
 "encoding": {"text": {"field": "t"}}},
{"data": {"values": [{"f": 2.569776, "v": 1.99, "t": "Rev 9.5 22 Jan 2014"}]},
 "mark": {"type": "text", "font": "Liberation Mono", "fontSize": 9.5, "align": "right", "baseline": "middle", "color": "#444444"},
 "encoding": {"text": {"field": "t"}}}
]
}
